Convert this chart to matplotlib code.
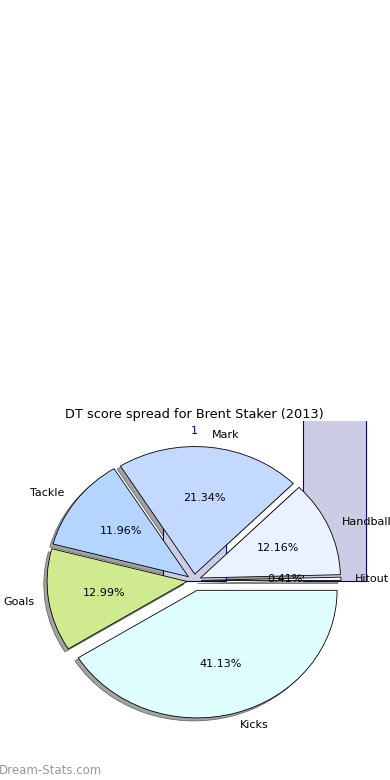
import matplotlib
matplotlib.use("Agg")
from matplotlib import pyplot as plt
from matplotlib.patches import Shadow

labels = ['Hitout', 'Handball', 'Mark', 'Tackle', 'Goals', 'Kicks']
shares = [0.41, 12.16, 21.34, 11.96, 12.99, 41.13]
colors = ['#f4f6ff', '#eaf1ff', '#c4d9ff', '#b3d5ff', '#cfea8f', '#dfffff']
explode = [0.05, 0.05, 0.05, 0.05, 0.05, 0.08]

bar_pos = [0, 1]
bar_heights = [1, 2]
bar_text = '1'

fig = plt.figure(figsize=(3.9, 7.8), dpi=100)
ax = fig.add_axes([19 / 390, 40 / 780, 350 / 390, 319 / 780])

# stray bars that sit behind the pie
ax.bar(bar_pos, bar_heights, width=0.45, color='#ccccE4', edgecolor='#000099', linewidth=0.8)
ax.text(bar_pos[0], 1.17, bar_text, color='#000099', ha='center', va='center', fontsize=8)

wedges, texts, autotexts = ax.pie(shares, labels=labels, colors=colors, explode=explode,
                                  autopct='%.2f%%', startangle=0,
                                  shadow={'ox': -0.017, 'oy': -0.017},
                                  wedgeprops={'edgecolor': 'black', 'linewidth': 0.6},
                                  textprops={'fontsize': 8})
for p in ax.patches:
    if isinstance(p, Shadow):
        p.set_facecolor('#8c8c8c')
        p.set_edgecolor('#555555')
        p.set_alpha(0.8)
ax.set_aspect('auto')
ax.set_xlim(-1.25, 1.25)
ax.set_ylim(-1.25, 1.25)
ax.set_title('DT score spread for Brent Staker (2013)', fontsize=9.3, pad=2)

fig.text(-0.003, 0.012, 'Dream-Stats.com', color='#999999', fontsize=8.5, ha='left', va='center')

fig.savefig('out.png', dpi=100)
